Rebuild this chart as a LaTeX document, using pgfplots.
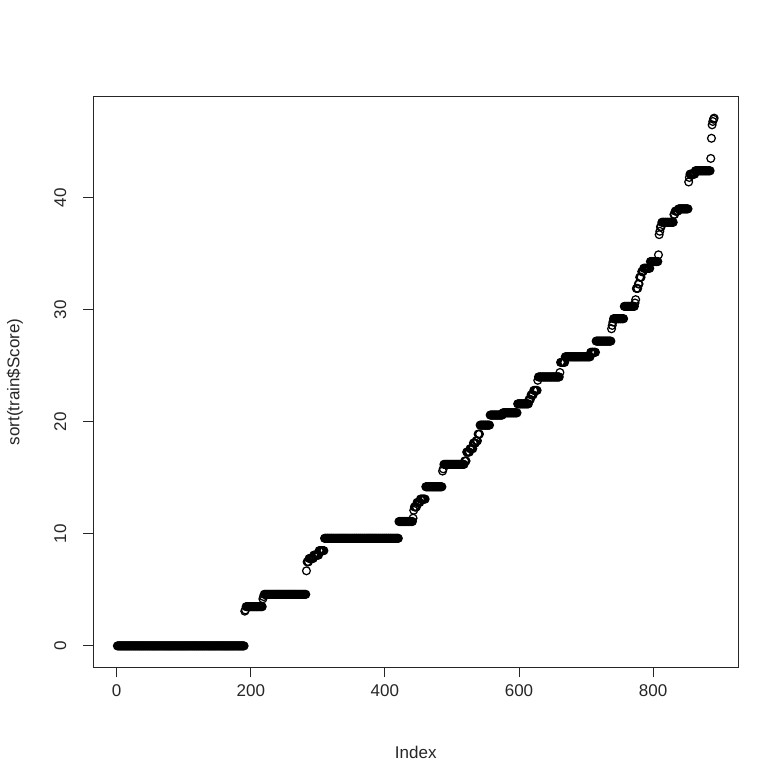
\documentclass[border=0pt]{standalone}
\usepackage{pgfplots}
\pgfplotsset{compat=1.18}
\usepackage{pgfplotstable}
\usepackage{fontspec}
\setmainfont{Liberation Sans}
\pgfplotstableread[row sep=\\, header=false]{
0\\0\\0\\0\\0\\0\\0\\0\\0\\0\\
0\\0\\0\\0\\0\\0\\0\\0\\0\\0\\
0\\0\\0\\0\\0\\0\\0\\0\\0\\0\\
0\\0\\0\\0\\0\\0\\0\\0\\0\\0\\
0\\0\\0\\0\\0\\0\\0\\0\\0\\0\\
0\\0\\0\\0\\0\\0\\0\\0\\0\\0\\
0\\0\\0\\0\\0\\0\\0\\0\\0\\0\\
0\\0\\0\\0\\0\\0\\0\\0\\0\\0\\
0\\0\\0\\0\\0\\0\\0\\0\\0\\0\\
0\\0\\0\\0\\0\\0\\0\\0\\0\\0\\
0\\0\\0\\0\\0\\0\\0\\0\\0\\0\\
0\\0\\0\\0\\0\\0\\0\\0\\0\\0\\
0\\0\\0\\0\\0\\0\\0\\0\\0\\0\\
0\\0\\0\\0\\0\\0\\0\\0\\0\\0\\
0\\0\\0\\0\\0\\0\\0\\0\\0\\0\\
0\\0\\0\\0\\0\\0\\0\\0\\0\\0\\
0\\0\\0\\0\\0\\0\\0\\0\\0\\0\\
0\\0\\0\\0\\0\\0\\0\\0\\0\\0\\
0\\0\\0\\0\\0\\0\\0\\0\\0\\0\\
3.1\\3.2\\
3.5\\3.5\\3.5\\3.5\\3.5\\3.5\\3.5\\3.5\\3.5\\3.5\\
3.5\\3.5\\3.5\\3.5\\3.5\\3.5\\3.5\\3.5\\3.5\\3.5\\
3.5\\3.5\\3.5\\3.5\\3.5\\
4.2\\4.4\\
4.6\\4.6\\4.6\\4.6\\4.6\\4.6\\4.6\\4.6\\4.6\\4.6\\
4.6\\4.6\\4.6\\4.6\\4.6\\4.6\\4.6\\4.6\\4.6\\4.6\\
4.6\\4.6\\4.6\\4.6\\4.6\\4.6\\4.6\\4.6\\4.6\\4.6\\
4.6\\4.6\\4.6\\4.6\\4.6\\4.6\\4.6\\4.6\\4.6\\4.6\\
4.6\\4.6\\4.6\\4.6\\4.6\\4.6\\4.6\\4.6\\4.6\\4.6\\
4.6\\4.6\\4.6\\4.6\\4.6\\4.6\\4.6\\4.6\\4.6\\4.6\\
4.6\\4.6\\4.6\\
6.7\\
7.5\\7.5\\7.5\\
7.8\\7.8\\7.8\\7.8\\7.8\\7.8\\7.8\\
8.1\\8.1\\8.1\\8.1\\8.1\\8.1\\8.1\\8.1\\
8.5\\8.5\\8.5\\8.5\\8.5\\8.5\\8.5\\8.5\\
9.6\\9.6\\9.6\\9.6\\9.6\\9.6\\9.6\\9.6\\9.6\\9.6\\
9.6\\9.6\\9.6\\9.6\\9.6\\9.6\\9.6\\9.6\\9.6\\9.6\\
9.6\\9.6\\9.6\\9.6\\9.6\\9.6\\9.6\\9.6\\9.6\\9.6\\
9.6\\9.6\\9.6\\9.6\\9.6\\9.6\\9.6\\9.6\\9.6\\9.6\\
9.6\\9.6\\9.6\\9.6\\9.6\\9.6\\9.6\\9.6\\9.6\\9.6\\
9.6\\9.6\\9.6\\9.6\\9.6\\9.6\\9.6\\9.6\\9.6\\9.6\\
9.6\\9.6\\9.6\\9.6\\9.6\\9.6\\9.6\\9.6\\9.6\\9.6\\
9.6\\9.6\\9.6\\9.6\\9.6\\9.6\\9.6\\9.6\\9.6\\9.6\\
9.6\\9.6\\9.6\\9.6\\9.6\\9.6\\9.6\\9.6\\9.6\\9.6\\
9.6\\9.6\\9.6\\9.6\\9.6\\9.6\\9.6\\9.6\\9.6\\9.6\\
9.6\\9.6\\9.6\\9.6\\9.6\\9.6\\9.6\\9.6\\9.6\\9.6\\
9.6\\
11.1\\11.1\\11.1\\11.1\\11.1\\11.1\\11.1\\11.1\\11.1\\11.1\\
11.1\\11.1\\11.1\\11.1\\11.1\\11.1\\11.1\\11.1\\11.1\\11.1\\
11.1\\
11.4\\12.1\\
12.4\\12.4\\12.4\\12.4\\
12.8\\12.8\\12.8\\12.8\\12.8\\
13.1\\13.1\\13.1\\13.1\\13.1\\13.1\\13.1\\13.1\\
14.2\\14.2\\14.2\\14.2\\14.2\\14.2\\14.2\\14.2\\14.2\\14.2\\
14.2\\14.2\\14.2\\14.2\\14.2\\14.2\\14.2\\14.2\\14.2\\14.2\\
14.2\\14.2\\14.2\\14.2\\14.2\\
15.6\\15.8\\
16.2\\16.2\\16.2\\16.2\\16.2\\16.2\\16.2\\16.2\\16.2\\16.2\\
16.2\\16.2\\16.2\\16.2\\16.2\\16.2\\16.2\\16.2\\16.2\\16.2\\
16.2\\16.2\\16.2\\16.2\\16.2\\16.2\\16.2\\16.2\\16.2\\16.2\\
16.2\\
16.5\\16.5\\16.5\\
17.3\\17.3\\17.3\\17.3\\17.3\\
17.6\\17.6\\17.6\\17.6\\17.6\\
18.1\\18.1\\18.1\\18.1\\
18.3\\18.3\\18.3\\
18.9\\18.9\\18.9\\
19.7\\19.7\\19.7\\19.7\\19.7\\19.7\\19.7\\19.7\\19.7\\19.7\\
19.7\\19.7\\19.7\\19.7\\19.7\\
20.6\\20.6\\20.6\\20.6\\20.6\\20.6\\20.6\\20.6\\20.6\\20.6\\
20.6\\20.6\\20.6\\20.6\\20.6\\20.6\\20.6\\20.6\\20.6\\
20.8\\20.8\\20.8\\20.8\\20.8\\20.8\\20.8\\20.8\\20.8\\20.8\\
20.8\\20.8\\20.8\\20.8\\20.8\\20.8\\20.8\\20.8\\20.8\\20.8\\
20.8\\20.8\\
21.6\\21.6\\21.6\\21.6\\21.6\\21.6\\21.6\\21.6\\21.6\\21.6\\
21.6\\21.6\\21.6\\21.6\\21.6\\21.6\\21.6\\
22.0\\22.0\\22.0\\
22.4\\22.4\\22.4\\22.4\\
22.8\\22.8\\22.8\\22.8\\22.8\\22.8\\
23.7\\
24.0\\24.0\\24.0\\24.0\\24.0\\24.0\\24.0\\24.0\\24.0\\24.0\\
24.0\\24.0\\24.0\\24.0\\24.0\\24.0\\24.0\\24.0\\24.0\\24.0\\
24.0\\24.0\\24.0\\24.0\\24.0\\24.0\\24.0\\24.0\\24.0\\24.0\\
24.0\\24.0\\
24.4\\
25.3\\25.3\\25.3\\25.3\\25.3\\25.3\\25.3\\
25.8\\25.8\\25.8\\25.8\\25.8\\25.8\\25.8\\25.8\\25.8\\25.8\\
25.8\\25.8\\25.8\\25.8\\25.8\\25.8\\25.8\\25.8\\25.8\\25.8\\
25.8\\25.8\\25.8\\25.8\\25.8\\25.8\\25.8\\25.8\\25.8\\25.8\\
25.8\\25.8\\25.8\\25.8\\25.8\\25.8\\25.8\\25.8\\
26.2\\26.2\\26.2\\26.2\\26.2\\26.2\\26.2\\26.2\\
27.2\\27.2\\27.2\\27.2\\27.2\\27.2\\27.2\\27.2\\27.2\\27.2\\
27.2\\27.2\\27.2\\27.2\\27.2\\27.2\\27.2\\27.2\\27.2\\27.2\\
27.2\\27.2\\27.2\\
28.3\\28.6\\28.9\\
29.2\\29.2\\29.2\\29.2\\29.2\\29.2\\29.2\\29.2\\29.2\\29.2\\
29.2\\29.2\\29.2\\29.2\\29.2\\29.2\\
30.3\\30.3\\30.3\\30.3\\30.3\\30.3\\30.3\\30.3\\30.3\\30.3\\
30.3\\30.3\\30.3\\30.3\\30.3\\30.3\\
30.6\\30.9\\
31.9\\31.9\\31.9\\
32.3\\32.3\\
32.9\\32.9\\32.9\\
33.4\\33.4\\33.4\\
33.7\\33.7\\33.7\\33.7\\33.7\\33.7\\33.7\\33.7\\33.7\\33.7\\
34.3\\34.3\\34.3\\34.3\\34.3\\34.3\\34.3\\34.3\\34.3\\34.3\\
34.3\\34.3\\
34.9\\36.7\\37.0\\
37.4\\37.4\\
37.8\\37.8\\37.8\\37.8\\37.8\\37.8\\37.8\\37.8\\37.8\\37.8\\
37.8\\37.8\\37.8\\37.8\\37.8\\37.8\\37.8\\37.8\\
38.5\\38.5\\
38.8\\38.8\\38.8\\38.8\\38.8\\
39.0\\39.0\\39.0\\39.0\\39.0\\39.0\\39.0\\39.0\\39.0\\39.0\\
39.0\\39.0\\39.0\\39.0\\39.0\\
41.4\\41.8\\
42.1\\42.1\\42.1\\42.1\\42.1\\42.1\\42.1\\42.1\\
42.4\\42.4\\42.4\\42.4\\42.4\\42.4\\42.4\\42.4\\42.4\\42.4\\
42.4\\42.4\\42.4\\42.4\\42.4\\42.4\\42.4\\42.4\\42.4\\42.4\\
42.4\\42.4\\42.4\\
43.5\\45.3\\46.5\\46.8\\47.0\\47.1\\
}\scores
\begin{document}
\begin{tikzpicture}[x=1pt,y=1pt]
\useasboundingbox[fill=white] (0,0) rectangle (772,777);
\begin{axis}[
  at={(93.5pt,110pt)}, anchor=south west,
  width=644.5pt, height=570pt, scale only axis,
  xmin=-34.6, xmax=926.6, ymin=-1.884, ymax=48.984,
  axis line style={line width=1pt, black!85},
  xtick={0,200,400,600,800}, ytick={0,10,20,30,40},
  xtick pos=bottom, ytick pos=left,
  tick align=outside, major tick length=10pt,
  tick style={line width=1pt, black!85},
  /pgf/number format/assume math mode=true,
  tick label style={font=\fontsize{17}{20}\selectfont, text=black!85, inner sep=0pt},
  xticklabel style={anchor=north},
  yticklabel style={rotate=90, anchor=south},
  xticklabel shift=7pt,
  yticklabel shift=17pt,
  xlabel={Index},
  ylabel={sort(train\$Score)},
  label style={font=\fontsize{17}{20}\selectfont, text=black!85, inner sep=0pt},
  xlabel style={at={(axis description cs:0.5,-0.149)}, anchor=center},
  ylabel style={at={(axis description cs:-0.122,0.5)}, anchor=center, rotate=0},
]
\addplot[only marks, mark=o, mark size=3.9pt, mark options={line width=1.25pt, black}]
  table[x expr=\coordindex+1, y index=0] {\scores};
\end{axis}
\end{tikzpicture}
\end{document}
